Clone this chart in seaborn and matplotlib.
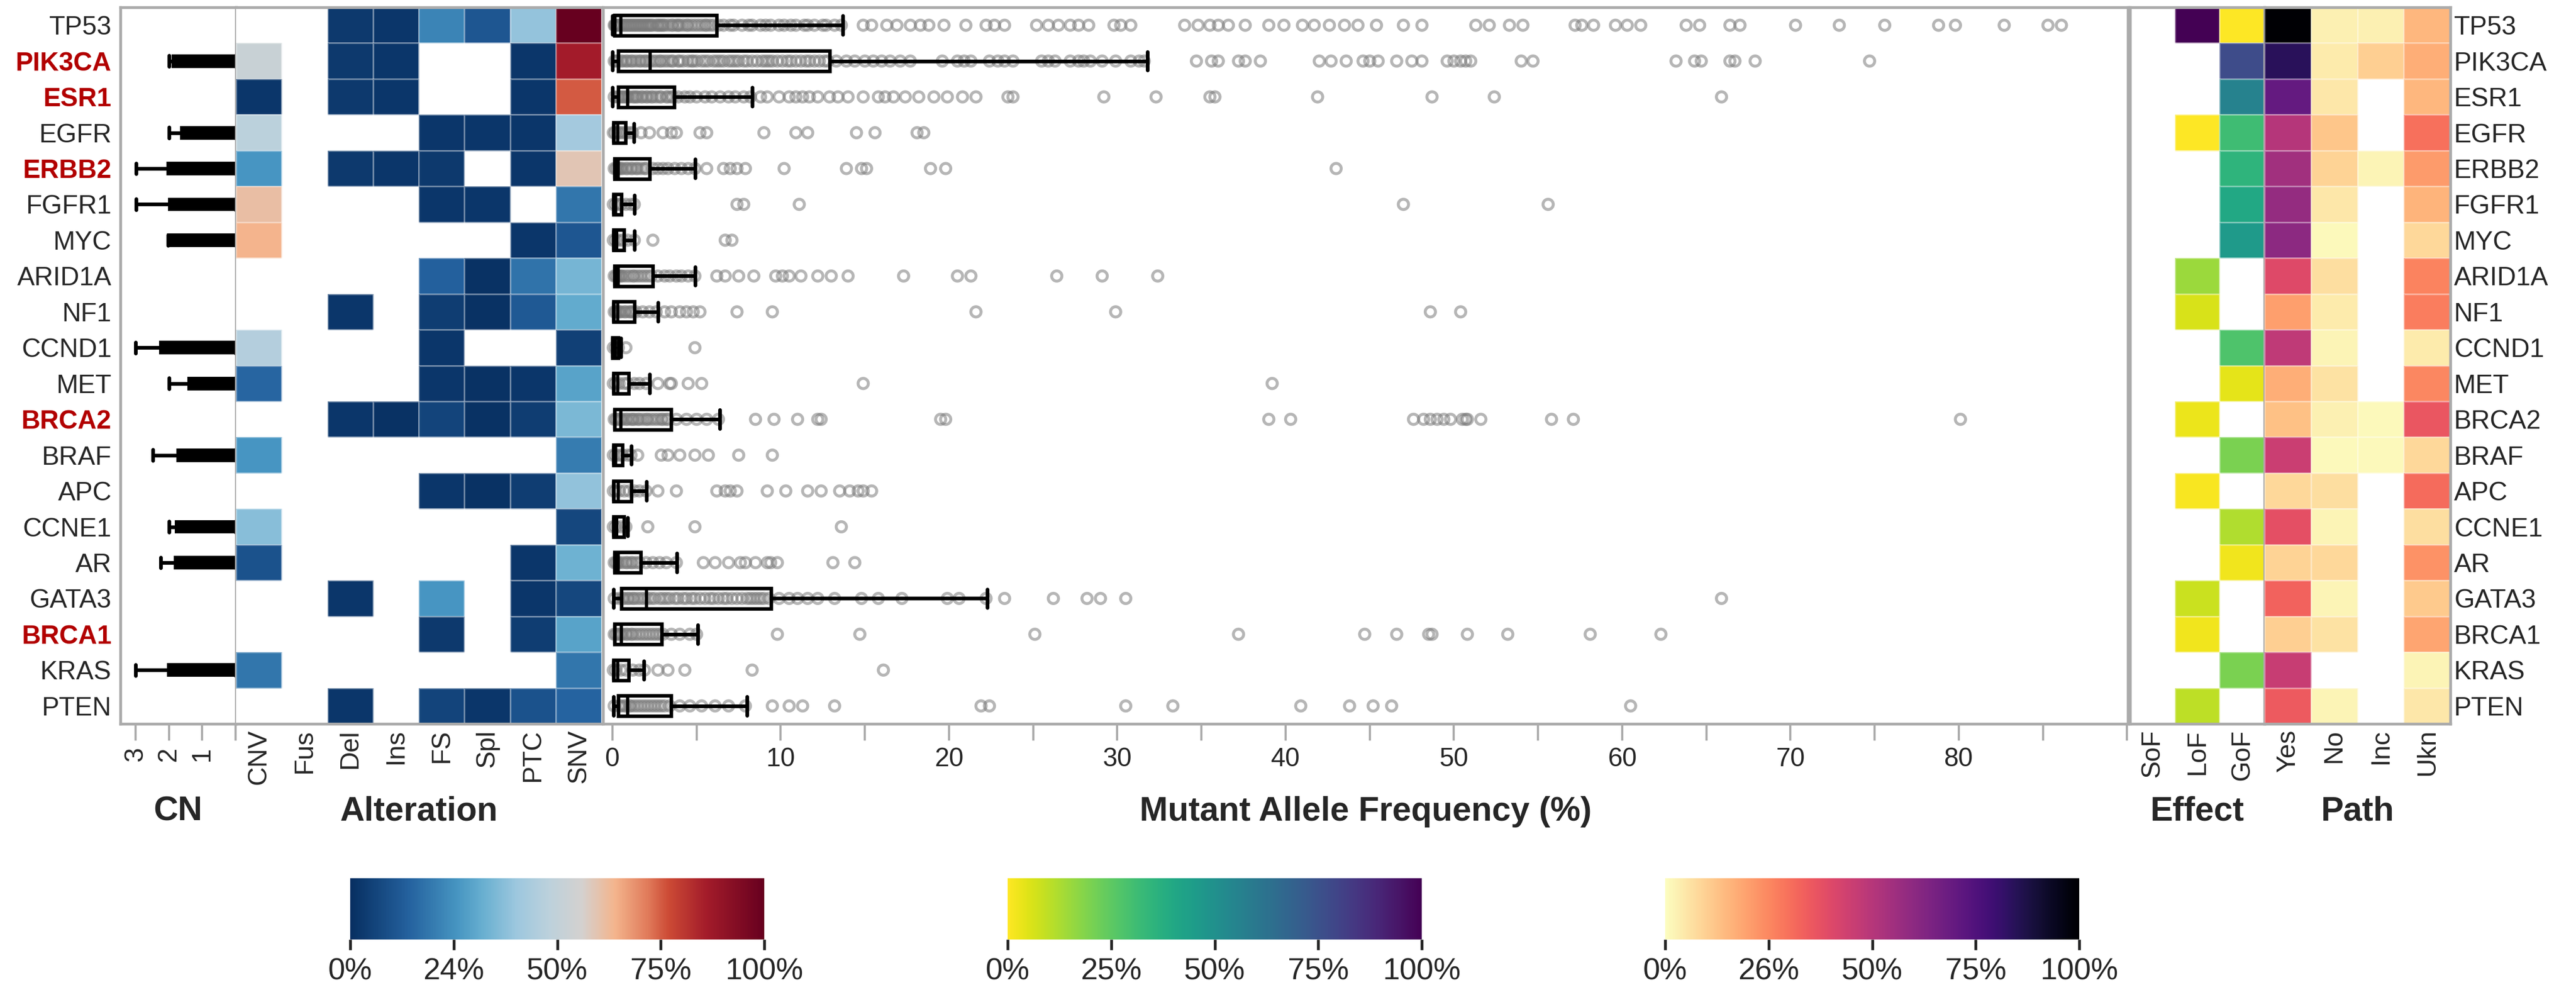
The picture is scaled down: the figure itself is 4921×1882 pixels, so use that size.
import numpy as np
import pandas as pd
import matplotlib
matplotlib.use("Agg")
import matplotlib.pyplot as plt
import seaborn as sns
from matplotlib.colors import LinearSegmentedColormap, Normalize
from matplotlib.cm import ScalarMappable

sns.set_style("white")
plt.rcParams["font.family"] = ["Liberation Sans", "DejaVu Sans"]

nan = np.nan

# ---------------------------------------------------------------- data
genes = ["TP53", "PIK3CA", "ESR1", "EGFR", "ERBB2", "FGFR1", "MYC", "ARID1A",
         "NF1", "CCND1", "MET", "BRCA2", "BRAF", "APC", "CCNE1", "AR",
         "GATA3", "BRCA1", "KRAS", "PTEN"]
highlighted = ["PIK3CA", "ESR1", "ERBB2", "BRCA2", "BRCA1"]

# copy number boxes (box from 0 to cn_q3, whisker to cn_whishi)
cn_q3 = [nan, 1.88, nan, 1.64, 2.05, 2.00, 2.03, nan, nan, 2.27,
         1.42, nan, 1.75, nan, 1.79, 1.82, nan, nan, 2.03, nan]
cn_whishi = [nan, 2.00, nan, 2.00, 2.99, 2.99, 2.03, nan, nan, 3.00,
             2.00, nan, 2.48, nan, 2.00, 2.24, nan, nan, 3.00, nan]
cn_med = 1.0
cn_ticks = [0, 1, 2, 3]
cn_ticklabels = ["", "1", "2", "3"]

# alteration type shares
alt_cols = ["CNV", "Fus", "Del", "Ins", "FS", "Spl", "PTC", "SNV"]
alt_cnv = [nan, 0.52, 0.02, 0.48, 0.26, 0.61, 0.64, nan, nan, 0.46,
           0.15, nan, 0.26, nan, 0.37, 0.10, nan, nan, 0.19, nan]
alt_fus = [nan] * 20
alt_del = [0.03, 0.03, 0.03, nan, 0.03, nan, nan, nan, 0.02, nan,
           nan, 0.02, nan, nan, nan, nan, 0.02, nan, nan, 0.02]
alt_ins = [0.02, 0.02, 0.02, nan, 0.02, nan, nan, nan, nan, nan,
           nan, 0.01, nan, nan, nan, nan, nan, nan, nan, nan]
alt_fs = [0.22, nan, nan, 0.02, 0.03, 0.02, nan, 0.14, 0.04, 0.02,
          0.02, 0.06, nan, 0.02, nan, nan, 0.26, 0.03, nan, 0.06]
alt_spl = [0.11, nan, nan, 0.02, nan, 0.02, nan, 0.01, 0.01, nan,
           0.01, 0.01, nan, 0.01, nan, nan, nan, nan, nan, 0.02]
alt_ptc = [0.39, 0.02, 0.02, 0.02, 0.02, nan, 0.02, 0.18, 0.12, nan,
           0.02, 0.04, nan, 0.04, nan, 0.02, 0.02, 0.04, nan, 0.10]
alt_snv = [1.00, 0.86, 0.75, 0.42, 0.59, 0.19, 0.11, 0.34, 0.31, 0.05,
           0.29, 0.35, 0.20, 0.385, 0.07, 0.33, 0.07, 0.29, 0.19, 0.145]

# mutant allele frequency box statistics (%)
maf_whislo = [0.0, 0.0, 0.0, 0.06, 0.13, 0.06, 0.06, 0.13, 0.07, 0.0,
              0.06, 0.13, 0.06, 0.07, 0.06, 0.13, 0.06, 0.13, 0.06, 0.06]
maf_q1 = [0.13, 0.35, 0.35, 0.06, 0.13, 0.06, 0.06, 0.13, 0.07, 0.0,
          0.06, 0.13, 0.06, 0.07, 0.06, 0.13, 0.54, 0.13, 0.06, 0.35]
maf_med = [0.49, 2.24, 0.90, 0.30, 0.35, 0.20, 0.25, 0.35, 0.30, 0.15,
           0.30, 0.49, 0.20, 0.35, 0.25, 0.35, 2.02, 0.54, 0.30, 0.90]
maf_q3 = [6.18, 12.9, 3.68, 0.77, 2.21, 0.54, 0.69, 2.38, 1.32, 0.35,
          0.96, 3.49, 0.60, 1.13, 0.69, 1.68, 9.43, 2.93, 0.96, 3.49]
maf_whishi = [13.7, 31.8, 8.32, 1.27, 4.93, 1.32, 1.32, 4.93, 2.71, 0.50,
              2.21, 6.38, 1.13, 2.02, 0.90, 3.82, 22.26, 5.07, 1.88, 7.99]

# individual mutant allele frequencies (%)
maf_tp53 = [0.1, 0.15, 0.2, 0.3, 0.4, 0.5, 0.6, 0.7, 0.8, 0.9, 1.0, 1.1, 1.2,
            1.3, 1.4, 1.5, 1.6, 1.7, 1.8, 1.9, 2.0, 2.1, 2.2, 2.3, 2.4, 2.6,
            2.7, 2.8, 2.9, 3.0, 3.1, 3.3, 3.5, 3.6, 3.8, 3.9, 4.0, 4.2, 4.4,
            4.5, 4.7, 4.9, 5.1, 5.3, 5.5, 5.6, 5.8, 6.0, 6.3, 6.6, 7.0, 7.2,
            7.7, 8.1, 8.3, 8.8, 9.1, 9.4, 9.9, 10.2, 10.6, 10.9, 11.4, 11.6,
            12.0, 12.5, 12.7, 13.2, 13.6, 14.9, 15.4, 16.3, 16.9, 17.7, 18.3,
            18.8, 19.7, 21.0, 22.2, 22.7, 23.3, 25.2, 25.9, 26.5, 27.2, 27.7,
            28.3, 29.8, 30.2, 30.8, 34.0, 34.8, 35.5, 36.0, 36.6, 37.6, 39.0,
            39.9, 41.0, 41.7, 42.6, 43.5, 44.3, 45.4, 47.0, 48.1, 51.3, 52.1,
            53.3, 54.1, 57.2, 57.6, 58.3, 59.6, 60.3, 61.1, 63.8, 64.6, 66.4,
            67.0, 70.3, 72.9, 75.6, 78.8, 79.8, 82.7, 85.3, 86.1]
maf_pik3ca = [0.1, 0.2, 0.3, 0.5, 0.6, 0.8, 0.9, 1.1, 1.2, 1.4, 1.6, 1.7, 1.9,
              2.0, 2.2, 2.4, 2.6, 2.8, 2.9, 3.1, 3.3, 3.5, 3.6, 3.9, 4.0, 4.2,
              4.5, 4.7, 4.8, 5.0, 5.3, 5.5, 5.7, 6.0, 6.2, 6.4, 6.6, 6.9, 7.1,
              7.3, 7.5, 7.8, 8.0, 8.3, 8.6, 8.9, 9.1, 9.3, 9.5, 9.8, 10.1, 10.4,
              10.6, 10.9, 11.2, 11.5, 11.7, 12.0, 12.3, 12.6, 12.8, 13.3, 13.9,
              14.4, 15.0, 15.5, 16.0, 16.5, 17.1, 17.7, 19.6, 20.5, 20.9, 21.3,
              22.4, 22.9, 23.3, 23.8, 25.5, 25.9, 26.3, 27.2, 27.7, 28.0, 28.4,
              29.1, 29.9, 30.8, 31.3, 31.6, 34.7, 35.6, 36.0, 37.2, 37.6, 38.5,
              42.0, 42.7, 43.6, 44.6, 45.0, 45.5, 46.6, 47.5, 48.1, 49.6, 50.0,
              50.4, 50.7, 51.0, 54.0, 54.7, 63.2, 64.3, 64.7, 66.4, 66.7, 67.9,
              74.7]
maf_esr1 = [0.1, 0.3, 0.4, 0.5, 0.6, 0.7, 0.8, 0.9, 1.0, 1.2, 1.3, 1.4, 1.5,
            1.7, 1.8, 2.0, 2.1, 2.3, 2.4, 2.6, 2.8, 2.9, 3.2, 3.3, 3.5, 3.6,
            3.9, 4.3, 4.6, 5.0, 5.5, 5.9, 6.4, 6.9, 7.3, 7.8, 8.2, 8.8, 9.2,
            9.9, 10.5, 10.9, 11.3, 11.7, 12.2, 12.9, 13.4, 14.0, 14.9, 15.8,
            16.2, 16.7, 17.4, 18.2, 19.1, 19.9, 20.8, 21.6, 23.5, 23.8, 29.2,
            32.3, 35.5, 35.8, 41.9, 48.7, 52.4, 65.9]
maf_egfr = [0.05, 0.15, 0.3, 0.45, 0.6, 0.8, 1.0, 1.2, 1.7, 2.2, 3.0, 3.5, 3.8,
            5.2, 5.6, 9.0, 10.9, 11.6, 14.5, 15.6, 18.1, 18.5]
maf_erbb2 = [0.1, 0.2, 0.3, 0.4, 0.5, 0.6, 0.8, 0.9, 1.1, 1.2, 1.4, 1.5, 1.7,
             1.9, 2.0, 2.4, 2.7, 3.0, 3.3, 3.7, 4.1, 4.5, 4.9, 5.6, 6.6, 7.0,
             7.4, 7.9, 10.2, 13.9, 14.8, 15.1, 18.9, 19.8, 43.0]
maf_fgfr1 = [0.05, 0.2, 0.35, 0.5, 0.8, 1.1, 1.3, 7.4, 7.8, 11.1, 47.0, 55.6]
maf_myc = [0.05, 0.2, 0.4, 0.6, 0.9, 1.3, 2.4, 6.7, 7.1]
maf_arid1a = [0.1, 0.2, 0.3, 0.4, 0.5, 0.6, 0.8, 1.0, 1.2, 1.3, 1.5, 1.7, 1.9,
              2.1, 2.3, 2.7, 3.1, 3.4, 3.8, 4.1, 4.5, 4.9, 6.2, 6.7, 7.5, 8.4,
              9.7, 10.1, 10.5, 11.2, 12.2, 13.0, 14.0, 17.3, 20.5, 21.3, 26.4,
              29.1, 32.4]
maf_nf1 = [0.1, 0.2, 0.3, 0.4, 0.5, 0.7, 0.8, 1.0, 1.1, 1.2, 1.4, 1.8, 2.2,
           2.6, 3.1, 3.5, 4.0, 4.4, 4.8, 5.2, 7.4, 9.5, 21.6, 29.9, 48.6, 50.4]
maf_ccnd1 = [0.05, 0.2, 0.35, 0.8, 4.9]
maf_met = [0.05, 0.2, 0.4, 0.7, 0.9, 1.3, 1.6, 2.0, 2.7, 3.4, 3.5, 4.5, 5.3,
           14.9, 39.2]
maf_brca2 = [0.1, 0.2, 0.3, 0.4, 0.5, 0.6, 0.8, 0.9, 1.1, 1.2, 1.3, 1.5, 1.6,
             1.8, 2.0, 2.1, 2.3, 2.5, 2.7, 2.9, 3.0, 3.2, 3.3, 3.8, 4.4, 5.0,
             5.6, 6.3, 8.5, 9.6, 11.0, 12.2, 12.4, 19.5, 19.8, 39.0, 40.3, 47.6,
             48.2, 48.6, 49.0, 49.4, 49.8, 50.5, 50.7, 50.8, 51.6, 55.8, 57.1,
             80.1]
maf_braf = [0.05, 0.2, 0.4, 0.6, 0.9, 1.1, 1.5, 2.9, 3.3, 4.0, 4.9, 5.7, 7.5, 9.5]
maf_apc = [0.05, 0.2, 0.4, 0.7, 1.0, 1.3, 1.6, 2.0, 2.7, 3.8, 6.2, 6.7, 7.0,
           7.4, 9.2, 10.3, 11.6, 12.4, 13.5, 14.1, 14.6, 14.9, 15.4]
maf_ccne1 = [0.05, 0.2, 0.5, 0.8, 2.1, 4.9, 13.6]
maf_ar = [0.1, 0.2, 0.3, 0.4, 0.6, 0.8, 0.9, 1.1, 1.2, 1.4, 1.6, 2.0, 2.4, 2.8,
          3.2, 3.8, 5.4, 6.1, 6.9, 7.6, 7.9, 8.5, 9.2, 9.4, 9.8, 13.1, 14.4]
maf_gata3 = [0.1, 0.4, 0.6, 0.7, 0.9, 1.0, 1.2, 1.3, 1.5, 1.7, 1.9, 2.1, 2.3,
             2.5, 2.8, 3.0, 3.2, 3.4, 3.7, 3.9, 4.2, 4.4, 4.7, 4.9, 5.2, 5.5,
             5.8, 6.0, 6.3, 6.6, 6.8, 7.1, 7.4, 7.7, 8.0, 8.2, 8.4, 8.6, 8.8,
             9.0, 9.3, 9.9, 10.5, 11.0, 11.6, 12.2, 13.2, 14.8, 15.8, 17.2,
             19.9, 20.6, 22.2, 23.3, 26.2, 28.2, 29.0, 30.5, 65.9]
maf_brca1 = [0.1, 0.2, 0.3, 0.4, 0.5, 0.6, 0.8, 0.9, 1.1, 1.2, 1.4, 1.6, 1.8,
             2.0, 2.2, 2.4, 2.6, 2.8, 3.0, 3.5, 4.0, 4.6, 5.0, 9.8, 14.7, 25.1,
             37.2, 44.7, 46.6, 48.5, 48.7, 50.8, 53.2, 58.1, 62.3]
maf_kras = [0.05, 0.2, 0.5, 0.8, 1.2, 1.6, 1.9, 2.7, 3.3, 4.3, 8.3, 16.1]
maf_pten = [0.1, 0.4, 0.5, 0.7, 0.8, 1.0, 1.1, 1.3, 1.5, 1.7, 1.9, 2.1, 2.3,
            2.5, 2.7, 2.9, 3.1, 3.4, 4.0, 4.6, 5.3, 6.1, 6.9, 7.9, 9.5, 10.5,
            11.3, 13.2, 21.9, 22.4, 30.5, 33.3, 40.9, 43.8, 45.2, 46.3, 60.5]
maf_points = [maf_tp53, maf_pik3ca, maf_esr1, maf_egfr, maf_erbb2, maf_fgfr1,
              maf_myc, maf_arid1a, maf_nf1, maf_ccnd1, maf_met, maf_brca2,
              maf_braf, maf_apc, maf_ccne1, maf_ar, maf_gata3, maf_brca1,
              maf_kras, maf_pten]
maf_ticks = list(range(0, 95, 5))

# functional effect shares
eff_cols = ["SoF", "LoF", "GoF"]
eff_sof = [nan] * 20
eff_lof = [1.0, nan, nan, 0.0, nan, nan, nan, 0.15, 0.06, nan,
           nan, 0.03, nan, 0.01, nan, nan, 0.08, 0.02, nan, 0.10]
eff_gof = [0.0, 0.77, 0.56, 0.31, 0.35, 0.40, 0.46, nan, nan, 0.28,
           0.04, nan, 0.20, nan, 0.12, 0.02, nan, nan, 0.20, nan]

# pathogenicity shares
path_cols = ["Yes", "No", "Inc", "Ukn"]
path_yes = [1.0, 0.84, 0.70, 0.50, 0.55, 0.58, 0.60, 0.40, 0.20, 0.48,
            0.17, 0.13, 0.45, 0.08, 0.38, 0.09, 0.33, 0.10, 0.46, 0.35]
path_no = [0.03, 0.04, 0.05, 0.12, 0.09, 0.05, 0.01, 0.07, 0.04, 0.02,
           0.06, 0.03, 0.01, 0.07, 0.02, 0.08, 0.02, 0.06, nan, 0.02]
path_inc = [0.03, 0.10, nan, nan, 0.02, nan, nan, nan, nan, nan,
            nan, 0.01, 0.01, nan, nan, nan, nan, nan, nan, nan]
path_ukn = [0.15, 0.17, 0.15, 0.30, 0.21, 0.16, 0.08, 0.26, 0.27, 0.04,
            0.25, 0.36, 0.08, 0.31, 0.07, 0.23, 0.11, 0.19, 0.02, 0.05]

cb_labels_alt = ["0%", "24%", "50%", "75%", "100%"]
cb_labels_eff = ["0%", "25%", "50%", "75%", "100%"]
cb_labels_path = ["0%", "26%", "50%", "75%", "100%"]

# ---------------------------------------------------------------- styling
W, H = 4921, 1882
DPI = 300
GRID = "#ababab"
RED = "#b20000"
SPINE_W = 1.3

cmap_alt = LinearSegmentedColormap.from_list("alt", [
    (0.00, "#072f61"), (0.14, "#24619e"), (0.26, "#4796c2"), (0.32, "#68afd0"),
    (0.40, "#9cc7de"), (0.48, "#bcd1dc"), (0.56, "#d4d1cf"), (0.64, "#f4b48c"),
    (0.72, "#e07a5a"), (0.77, "#cc4a35"), (0.86, "#a41c2a"), (1.00, "#67001f")])
cmap_eff = plt.get_cmap("viridis_r")
cmap_path = plt.get_cmap("magma_r")

fig = plt.figure(figsize=(W / DPI, H / DPI), dpi=DPI)
fig.patch.set_facecolor("white")

Y_TOP, Y_BOT = 14, 1383


def panel(x0, x1, y0=Y_TOP, y1=Y_BOT):
    return fig.add_axes([x0 / W, 1 - y1 / H, (x1 - x0) / W, (y1 - y0) / H])


def style_spines(ax, sides):
    for name, sp in ax.spines.items():
        sp.set_visible(name in sides)
        sp.set_color(GRID)
        sp.set_linewidth(SPINE_W)


n = len(genes)
pos = np.arange(n) + 0.5

ax_cn = panel(230, 451)
ax_alt = panel(451, 1149)
ax_maf = panel(1152, 4065)
ax_eff = panel(4069, 4326)
ax_path = panel(4326, 4681)


def bxp_horizontal(ax, stats, positions, **kw):
    try:
        return ax.bxp(stats, positions=positions, orientation="horizontal", **kw)
    except TypeError:
        return ax.bxp(stats, positions=positions, vert=False, **kw)


# ---------------------------------------------------------------- CN panel
cn_stats, cn_pos = [], []
for i in range(n):
    if not np.isnan(cn_q3[i]):
        cn_stats.append(dict(q1=0.0, med=cn_med, q3=cn_q3[i], whislo=0.0,
                             whishi=cn_whishi[i], fliers=[]))
        cn_pos.append(pos[i])
bxp_horizontal(ax_cn, cn_stats, cn_pos, widths=0.32, capwidths=0.3,
               patch_artist=True, showfliers=False,
               boxprops=dict(facecolor="black", edgecolor="black", linewidth=1.0),
               whiskerprops=dict(color="black", linewidth=1.7),
               capprops=dict(color="black", linewidth=1.7),
               medianprops=dict(color="black", linewidth=1.0))
ax_cn.set_xlim(3.46, -0.02)
ax_cn.set_ylim(n, 0)
ax_cn.set_xticks(cn_ticks)
ax_cn.set_xticklabels(cn_ticklabels, rotation=90, fontsize=12)
ax_cn.set_yticks(pos)
ax_cn.set_yticklabels(genes, fontsize=12)
for lab in ax_cn.get_yticklabels():
    if lab.get_text() in highlighted:
        lab.set_color(RED)
        lab.set_fontweight("bold")
ax_cn.tick_params(axis="x", bottom=True, length=7.7, width=1.0, color=GRID, pad=3)
ax_cn.tick_params(axis="y", left=False, length=0, pad=4)
style_spines(ax_cn, ["left", "right", "top", "bottom"])

# ---------------------------------------------------------------- heatmaps
alt_df = pd.DataFrame(dict(zip(alt_cols, [alt_cnv, alt_fus, alt_del, alt_ins,
                                          alt_fs, alt_spl, alt_ptc, alt_snv])),
                      index=genes)
eff_df = pd.DataFrame(dict(zip(eff_cols, [eff_sof, eff_lof, eff_gof])), index=genes)
path_df = pd.DataFrame(dict(zip(path_cols, [path_yes, path_no, path_inc, path_ukn])),
                       index=genes)

for ax, df, cmap in [(ax_alt, alt_df, cmap_alt), (ax_eff, eff_df, cmap_eff),
                     (ax_path, path_df, cmap_path)]:
    sns.heatmap(df, ax=ax, cmap=cmap, vmin=0, vmax=1, cbar=False,
                linewidths=0.35, linecolor=(1, 1, 1, 0.35),
                xticklabels=True, yticklabels=False)
    ax.set_xticklabels(df.columns, rotation=90, fontsize=12)
    ax.tick_params(axis="x", bottom=True, length=0, pad=2.5)
    ax.set_xlabel("")
    ax.set_ylabel("")

style_spines(ax_alt, ["top", "bottom"])
style_spines(ax_eff, ["left", "right", "top", "bottom"])
style_spines(ax_path, ["right", "top", "bottom"])
ax_path.yaxis.tick_right()
ax_path.set_yticks(pos)
ax_path.set_yticklabels(genes, fontsize=12, rotation=0)
ax_path.tick_params(axis="y", right=True, left=False, length=0, pad=1.7)

# ---------------------------------------------------------------- MAF panel
px, py = [], []
for i, vals in enumerate(maf_points):
    px.extend(vals)
    py.extend([pos[i]] * len(vals))
ax_maf.scatter(px, py, s=22, facecolors="none", edgecolors="#7a7a7a",
               linewidths=1.35, alpha=0.55, zorder=1)

maf_stats = [dict(q1=maf_q1[i], med=maf_med[i], q3=maf_q3[i],
                  whislo=maf_whislo[i], whishi=maf_whishi[i], fliers=[])
             for i in range(n)]
bxp_horizontal(ax_maf, maf_stats, list(pos), widths=0.57, capwidths=0.52,
               patch_artist=True, showfliers=False, zorder=3,
               boxprops=dict(facecolor="none", edgecolor="black", linewidth=1.6),
               whiskerprops=dict(color="black", linewidth=1.7),
               capprops=dict(color="black", linewidth=1.7),
               medianprops=dict(color="black", linewidth=1.5))
ax_maf.set_xlim(-0.56, 90.05)
ax_maf.set_ylim(n, 0)
ax_maf.set_yticks([])
ax_maf.set_xticks(maf_ticks)
ax_maf.set_xticklabels([str(t) if t % 10 == 0 and t <= 80 else "" for t in maf_ticks],
                       fontsize=12)
ax_maf.tick_params(axis="x", bottom=True, length=7.7, width=1.0, color=GRID, pad=3)
style_spines(ax_maf, ["left", "right", "top", "bottom"])

# ---------------------------------------------------------------- panel titles
title_y = 1 - 1568 / H
for ax, title in [(ax_cn, "CN"), (ax_alt, "Alteration"),
                  (ax_maf, "Mutant Allele Frequency (%)"),
                  (ax_eff, "Effect"), (ax_path, "Path")]:
    bb = ax.get_position()
    fig.text((bb.x0 + bb.x1) / 2, title_y, title, ha="center", va="baseline",
             fontsize=15.5, fontweight="bold")

# ---------------------------------------------------------------- colorbars
cb_pos = [0.0, 0.25, 0.5, 0.75, 1.0]
for x0, cmap, labels in [(669, cmap_alt, cb_labels_alt),
                         (1925, cmap_eff, cb_labels_eff),
                         (3181, cmap_path, cb_labels_path)]:
    cax = fig.add_axes([x0 / W, 1 - 1795 / H, 791 / W, 117 / H])
    cb = fig.colorbar(ScalarMappable(norm=Normalize(0, 1), cmap=cmap), cax=cax,
                      orientation="horizontal")
    cb.outline.set_visible(False)
    cb.set_ticks(cb_pos)
    cb.set_ticklabels(labels)
    cax.tick_params(axis="x", bottom=True, length=4.8, width=1.3, labelsize=14, pad=3.6)
    for tick, p in zip(cax.xaxis.get_major_ticks(), cb_pos):
        tick.tick1line.set_color(cmap(p))

fig.savefig("out.png", dpi=DPI, facecolor="white")
